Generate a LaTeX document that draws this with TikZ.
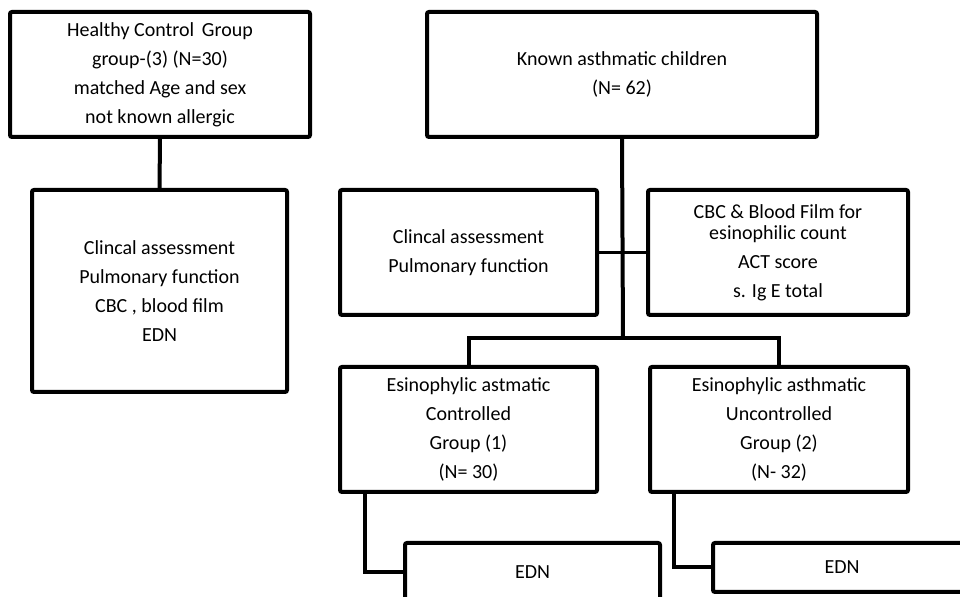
\documentclass[tikz,border=0pt]{standalone}
\usepackage{fontspec}
\setmainfont{Carlito}
\tikzset{
  box/.style={draw, line width=2pt, rounded corners=1pt, align=center,
    inner sep=0pt, font=\fontsize{10}{14.5}\selectfont},
  link/.style={line width=2pt},
  thinlink/.style={line width=1.3pt}
}
\begin{document}
\begin{tikzpicture}[x=0.5pt,y=-0.5pt]
        \useasboundingbox (0,0) rectangle (960,597);

        \node [box, minimum width=150pt, minimum height=62.5pt] (healthy) at (160,74.5)
            {Healthy Control\, Group\\ group-(3) (N=30)\\ matched Age and sex\\ not known allergic};
        \node [box, minimum width=127.5pt, minimum height=101pt] (healthytests) at (159.5,291)
            {Clincal assessment\\ Pulmonary function\\ CBC , blood film\\ EDN};

        \node [box, minimum width=195pt, minimum height=62.5pt] (known) at (622,74.5)
            {Known asthmatic children\\ (N= 62)};
        \node [box, minimum width=128.5pt, minimum height=62.5pt] (clinical) at (468.5,252.5)
            {Clincal assessment\\ Pulmonary function};
        \node [box, minimum width=130pt, minimum height=62.5pt] (cbc) at (778,252.5)
            {CBC \& Blood Film for\\[-4pt] esinophilic count\\ ACT score\\ s. Ig E total};

        \node [box, minimum width=128.5pt, minimum height=62.5pt] (controlled) at (468.5,429.5)
            {Esinophylic astmatic\\ Controlled\\ Group (1)\\ (N= 30)};
        \node [box, minimum width=129pt, minimum height=62.5pt] (uncontrolled) at (779,429.5)
            {Esinophylic asthmatic\\ Uncontrolled\\ Group (2)\\ (N- 32)};

        \node [box, minimum width=127.5pt, minimum height=29pt] (ednone) at (532.5,572) {EDN};
        \node [box, minimum width=129pt, minimum height=24.5pt] (edntwo) at (842,567.5) {EDN};

        \coordinate (split) at (623,338);

        \draw [link] (healthy.south) -- (healthytests.north);
        \draw [link] (known.south) -- (split);
        \draw [thinlink] (clinical.east) -- (cbc.west);
        \draw [link] (controlled.north) |- (split) -| (uncontrolled.north);
        \draw [link] ([xshift=13.5pt]controlled.south west) |- (ednone.west);
        \draw [link] ([xshift=13pt]uncontrolled.south west) |- (edntwo.west);
    \end{tikzpicture}
\end{document}
